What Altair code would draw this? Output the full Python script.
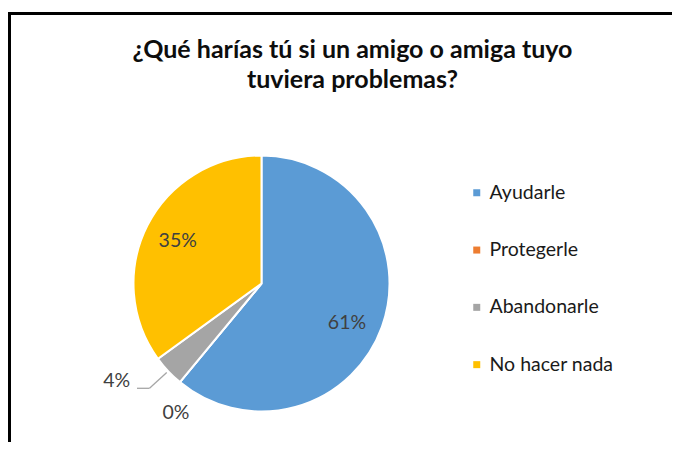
import math
import altair as alt
import pandas as pd

# ---- data ----
categories = ["Ayudarle", "Protegerle", "Abandonarle", "No hacer nada"]
values = [61, 0, 4, 35]
pct_labels = ["61%", "0%", "4%", "35%"]
colors = ["#5B9BD5", "#ED7D31", "#A5A5A5", "#FFC000"]
title_lines = ["¿Qué harías tú si un amigo o amiga tuyo", "tuviera problemas?"]

df = pd.DataFrame({
    "categoria": categories,
    "valor": values,
    "etiqueta": pct_labels,
    "orden": list(range(len(categories))),
})
one = pd.DataFrame({"k": [0]})
total = sum(values)

# ---- layout / style ----
# The view (with its black frame) is larger than the picture: its right and
# bottom edges lie beyond the svg and are clipped, like in the reference.
PAD_L, PAD_T, PAD_R, PAD_B = 1.5, 5.5, -40, -40
W = 664 - PAD_L - PAD_R
H = 434 - PAD_T - PAD_B
CX, CY, R = 252, 270, 128
FONT = "Lato"
LABEL_COLOR = "#404040"

color_scale = alt.Scale(domain=categories, range=colors)

arcs = alt.Chart(df).mark_arc(outerRadius=R, stroke="white", strokeWidth=2).encode(
    theta=alt.Theta("valor:Q", stack=True),
    order=alt.Order("orden:Q"),
    color=alt.Color(
        "categoria:N", scale=color_scale, sort=categories,
        legend=alt.Legend(
            orient="none", legendX=457.5, legendY=169.5, title=None,
            symbolType="square", symbolSize=49, symbolStrokeWidth=0,
            labelFont=FONT, labelFontSize=19.5, labelColor="#1a1a1a",
            rowPadding=36.3, labelOffset=3, padding=0,
        ),
    ),
    x=alt.value(CX), y=alt.value(CY),
)


def label_layer(cat, radius, theta_offset=0.0, dx=0, dy=0):
    return alt.Chart(df).transform_window(
        fin="sum(valor)", sort=[alt.SortField("orden")], frame=[None, 0]
    ).transform_calculate(
        medio="datum.fin - datum.valor / 2"
    ).transform_filter(
        alt.datum.categoria == cat
    ).mark_text(
        radius=radius, thetaOffset=theta_offset, dx=dx, dy=dy,
        font=FONT, fontSize=19.5, color=LABEL_COLOR,
        align="center", baseline="middle",
    ).encode(
        theta=alt.Theta("medio:Q", scale=alt.Scale(domain=[0, total])),
        text="etiqueta:N",
        x=alt.value(CX), y=alt.value(CY),
    )


labels = [
    label_layer("Ayudarle", 94, dx=-3, dy=8),
    label_layer("No hacer nada", 94),
    label_layer("Abandonarle", 174.8, theta_offset=0.159),
    label_layer("Protegerle", 154.8, theta_offset=-0.106),
]

# leader line for the small "Abandonarle" slice
start = sum(values[:2])
mid = (start + values[2] / 2) / total * 2 * math.pi
p0 = (CX + (R + 2) * math.sin(mid), CY - (R + 2) * math.cos(mid))
p1 = (140.0, 374.8)
p2 = (127.5, 374.8)
leader1 = alt.Chart(one).mark_rule(color="#A6A6A6", strokeWidth=1.3).encode(
    x=alt.value(p0[0]), y=alt.value(p0[1]), x2=alt.value(p1[0]), y2=alt.value(p1[1])
)
leader2 = alt.Chart(one).mark_rule(color="#A6A6A6", strokeWidth=1.3).encode(
    x=alt.value(p1[0]), y=alt.value(p1[1]), x2=alt.value(p2[0]), y2=alt.value(p2[1])
)

title = alt.Chart(one).mark_text(
    text=title_lines, font=FONT, fontSize=25, fontWeight="bold", color="#0d0d0d",
    align="center", baseline="alphabetic", lineHeight=30,
).encode(x=alt.value(343), y=alt.value(44.5))

chart = alt.layer(
    title, arcs, leader1, leader2, *labels
).properties(
    width=W, height=H, autosize="none",
    padding={"left": PAD_L, "top": PAD_T, "right": PAD_R, "bottom": PAD_B},
).configure_view(stroke="black", strokeWidth=3)

chart.save("out.html", embed_options={"renderer": "svg", "actions": False})
